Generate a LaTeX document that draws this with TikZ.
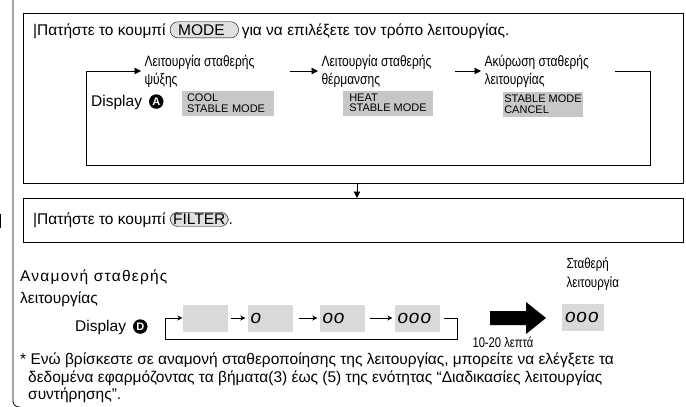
\documentclass[tikz,border=0pt]{standalone}
\usepackage{fontspec}
\setmainfont{Liberation Sans}
\newfontfamily\narrowfont[FakeStretch=0.8]{Liberation Sans}
\usetikzlibrary{positioning,arrows.meta,calc}
\definecolor{lcdgray}{gray}{0.78}
\definecolor{lcdlight}{gray}{0.85}
\definecolor{pillgray}{gray}{0.88}
\newcommand{\circletter}[1]{\tikz[baseline=-0.6ex]\node[circle,fill=black,text=white,inner sep=0.5pt,minimum size=14.5pt,font=\fontsize{11}{11}\selectfont\bfseries]{#1};}
\newcommand{\segdigits}[1]{{\itshape\fontsize{19}{19}\selectfont\addfontfeatures{LetterSpace=5}#1}}

\begin{document}
\begin{tikzpicture}[x=1pt,y=-1pt,
  panel/.style={draw,line width=0.8pt},
  pill/.style={draw,rounded corners=8pt,fill=pillgray,inner xsep=6pt,inner ysep=2.6pt},
  dispbox/.style={fill=lcdgray,minimum width=90pt,minimum height=25pt,inner sep=0pt,font=\fontsize{11}{10.5}\selectfont,align=left},
  lcdbox/.style={fill=lcdlight,text width=39pt,minimum height=27pt,inner xsep=3pt,inner ysep=0pt,align=left},
  lbl/.style={font=\narrowfont\fontsize{15}{18}\selectfont,align=left,anchor=west},
  main/.style={font=\fontsize{15.5}{18}\selectfont,anchor=west,inner sep=0pt},
  loop/.style={line width=0.8pt},
  flow/.style={line width=0.8pt,-{Triangle[length=6.5pt,width=6.5pt]}},
  stepflow/.style={line width=0.8pt,-{Stealth[length=5pt,width=5pt]}}]
\useasboundingbox (0,0) rectangle (686,407);

% page margin line
\draw[line width=0.8pt,rounded corners=6pt] (13,0) -- (13,407) -- (20,407);
\draw[line width=0.6pt] (0,214) -- (0,228);

% step 1
\draw[panel] (23,13) rectangle (683,183);
\node[main] (txtmode) at (33,30) {|Πατήστε το κουμπί \tikz[baseline=(b.base)]\node[pill] (b) {\hspace*{2pt}MODE\hspace*{8pt}};\hspace{3pt}για να επιλέξετε τον τρόπο λειτουργίας.};

\node[lbl] (cool) at (141,71) {Λειτουργία σταθερής\\ψύξης};
\node[lbl] (heat) at (318,71) {Λειτουργία σταθερής\\θέρμανσης};
\node[lbl] (cancel) at (481,71) {Ακύρωση σταθερής\\λειτουργίας};

\node[dispbox,text width=82pt,inner xsep=5pt] (dcool) at (228,103) {COOL\\STABLE MODE};
\node[dispbox] (dheat) at (388,103) {HEAT\\STABLE MODE};
\node[dispbox,minimum width=80pt] (dcancel) at (543,104) {STABLE MODE\\CANCEL};
\node[main] (dispa) at (91,102) {Display\hspace{7pt}\circletter{A}};

\coordinate (c1) at (86,71);
\coordinate (c2) at (290,71);
\coordinate (c3) at (455,71);
\coordinate (c4) at (615,71);
\draw[flow] (c1) -- (cool.west);
\draw[flow] (c2) -- (heat.west);
\draw[flow] (c3) -- (cancel.west);
\draw[loop] (c4) -- (650,71) -- (650,165) -- (86,165) -- (c1);

% step 2
\draw[panel] (23,198) rectangle (683,242);
\draw[flow] (357,183) -- (357,198);
\node[main] (txtfilter) at (33,220) {|Πατήστε το κουμπί \tikz[baseline=(b.base)]\node[pill,inner xsep=3pt,inner ysep=1.8pt] (b) {FILTER};.};

% standby
\node[main,font=\fontsize{15.5}{22}\selectfont\addfontfeatures{LetterSpace=8},align=left] (standby) at (20,288) {Αναμονή σταθερής\\\addfontfeatures{LetterSpace=0}λειτουργίας};
\node[main] (dispd) at (75,327) {Display\hspace{7pt}\circletter{D}};

\node[lcdbox] (s0) at (205,318) {};
\node[lcdbox] (s1) at (270,318) {\segdigits{o}};
\node[lcdbox] (s2) at (342,318) {\segdigits{oo}};
\node[lcdbox] (s3) at (417,318) {\segdigits{ooo}};
\draw[stepflow] ($(s0.east)+(3,0)$) -- ($(s1.west)+(-2,0)$);
\draw[stepflow] ($(s1.east)+(6,0)$) -- ($(s2.west)+(-2,0)$);
\draw[stepflow] ($(s2.east)+(5,0)$) -- ($(s3.west)+(-2,0)$);
\coordinate (r1) at (165,318);
\draw[loop] ($(s3.east)+(4,0)$) -- (457,318) -- (457,339) -- (165,339) -- (r1);
\draw[stepflow] (r1) -- (s0.west);

% big arrow
\fill (490,311) -- (526,311) -- (526,302) -- (546,318) -- (526,334) -- (526,325) -- (490,325) -- cycle;
\node[lbl,font=\narrowfont\fontsize{14}{16}\selectfont] (mins) at (469,342) {10-20 λεπτά};

\node[lbl,font=\narrowfont\fontsize{14.5}{19}\selectfont] (stable) at (563,274) {Σταθερή\\λειτουργία};
\node[lcdbox,text width=36pt] (sfin) at (583,317) {\segdigits{ooo}};

% footnote
\node[main,font=\fontsize{15.5}{17.5}\selectfont,align=left,anchor=north west] (note) at (20,353)
  {* Ενώ βρίσκεστε σε αναμονή σταθεροποίησης της λειτουργίας, μπορείτε να ελέγξετε τα\\
  \hspace*{8pt}δεδομένα εφαρμόζοντας τα βήματα(3) έως (5) της ενότητας “Διαδικασίες λειτουργίας\\
  \hspace*{8pt}συντήρησης”.};
\end{tikzpicture}
\end{document}
